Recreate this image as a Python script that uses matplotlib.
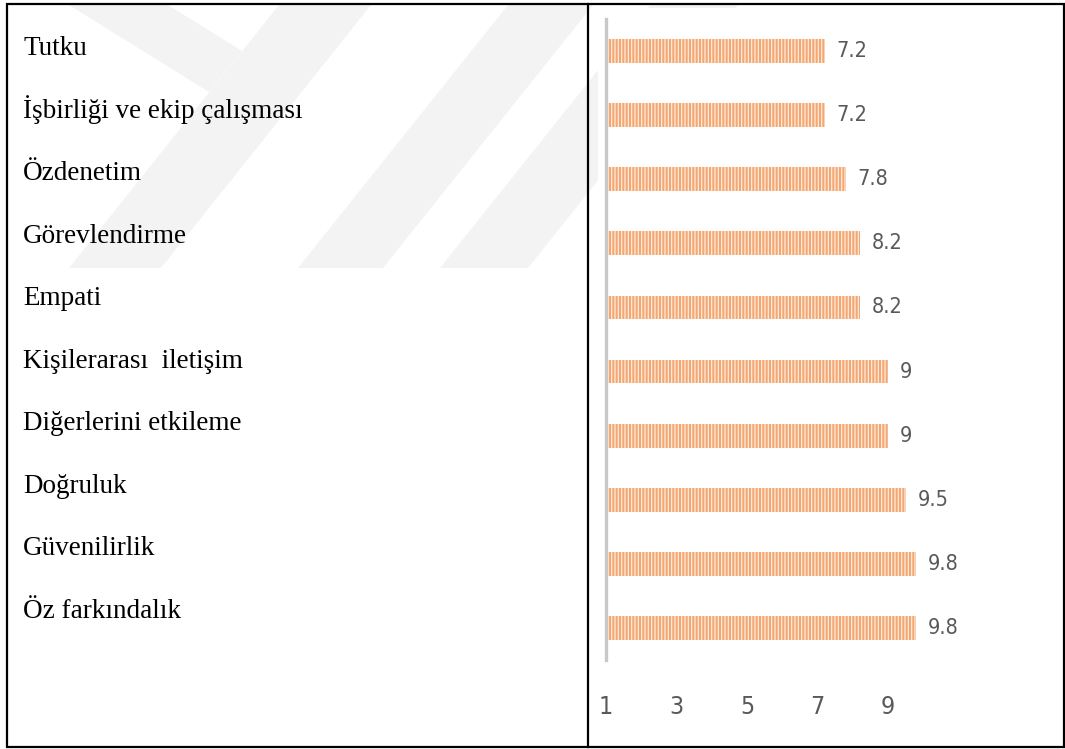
import matplotlib
matplotlib.use("Agg")
import matplotlib.pyplot as plt
from matplotlib import font_manager
from matplotlib.patches import Polygon, Rectangle
from matplotlib.lines import Line2D

# data (top to bottom, as in the table)
labels = ["Tutku", "İşbirliği ve ekip çalışması", "Özdenetim", "Görevlendirme",
          "Empati", "Kişilerarası  iletişim", "Diğerlerini etkileme", "Doğruluk",
          "Güvenilirlik", "Öz farkındalık"]
values = [7.2, 7.2, 7.8, 8.2, 8.2, 9, 9, 9.5, 9.8, 9.8]
xticks = [1, 3, 5, 7, 9]

W, H = 1065, 749
plt.rcParams['hatch.linewidth'] = 0.9

fig = plt.figure(figsize=(W / 100, H / 100), dpi=100)


def fx(px):
    return px / W


def fy(py):
    return 1 - py / H


# faint watermark stripes behind the table
shapes = [
    [(69, 5), (168, 5), (242, 51), (209, 92)],
    [(279, 5), (371, 5), (161, 268), (69, 268)],
    [(508, 5), (593, 5), (383, 268), (298, 268)],
    [(650, 5), (738, 5), (528, 268), (440, 268)],
]
for s in shapes:
    fig.add_artist(Polygon([(fx(x), fy(y)) for x, y in s], closed=True,
                           transform=fig.transFigure, facecolor='#F3F3F3',
                           edgecolor='none', zorder=0))
# chart picture is opaque white
fig.add_artist(Rectangle((fx(598), fy(745)), fx(1062) - fx(598), fy(8) - fy(745),
                         transform=fig.transFigure, facecolor='white',
                         edgecolor='none', zorder=0.5))

# table borders
bc = 'black'
fig.add_artist(Rectangle((fx(7), fy(747)), fx(1064) - fx(7), fy(4) - fy(747),
                         transform=fig.transFigure, fill=False, edgecolor=bc,
                         linewidth=1.6, zorder=5))
fig.add_artist(Line2D([fx(588), fx(588)], [fy(4), fy(747)], transform=fig.transFigure,
                      color=bc, linewidth=1.6, zorder=5))

# left cell: category names
top_b, bot_b = 55, 618
axl = fig.add_axes([fx(23), fy(bot_b), fx(300), fy(top_b) - fy(bot_b)])
axl.set_zorder(2)
axl.set_xlim(0, 1)
axl.set_ylim(len(labels) - 1, 0)
axl.axis('off')
for i, lab in enumerate(labels):
    axl.text(0, i, lab, ha='left', va='baseline', fontsize=19.5,
             family=['Liberation Serif', 'DejaVu Serif'], color='black', clip_on=False)

# narrow font for the chart numbers, if one is there
narrow = {'family': 'DejaVu Sans', 'stretch': 'condensed'}
for name in ['Liberation Sans Narrow', 'DejaVu Sans Condensed']:
    if any(f.name == name for f in font_manager.fontManager.ttflist):
        narrow = {'family': name}
        break

# right cell: bar chart
x_left, px_per_unit = 606, 35.25
xmax = 13
top_a, bot_a = 19, 660
ax = fig.add_axes([fx(x_left), fy(bot_a), fx(px_per_unit * (xmax - 1)), fy(top_a) - fy(bot_a)])
ax.set_zorder(2)
ax.patch.set_alpha(0)
ypos = list(range(len(labels)))
ax.barh(ypos, [v - 1 for v in values], left=1, height=0.37, color='#F3A874',
        edgecolor='#FDEADC', linewidth=0, hatch='|||||', zorder=2)
for i, v in enumerate(values):
    ax.text(v + 0.33, i, f"{v:g}", va='center', ha='left', fontsize=15.5,
            color='#595959', **narrow)
ax.set_xlim(1, xmax)
ax.set_ylim(len(labels) - 0.5, -0.5)
ax.set_xticks(xticks)
ax.set_xticklabels([str(t) for t in xticks], fontsize=18, color='#595959', **narrow)
ax.set_yticks([])
ax.tick_params(axis='x', length=0, pad=25)
for side in ['top', 'right', 'bottom']:
    ax.spines[side].set_visible(False)
ax.spines['left'].set_color('#C8C8C8')
ax.spines['left'].set_linewidth(2.4)

fig.savefig('out.png', dpi=100)
